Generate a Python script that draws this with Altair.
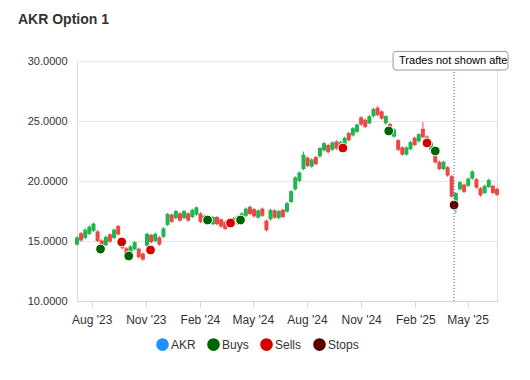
import altair as alt
import pandas as pd

# ---- candle data (weekly) ----
week_start = "2023-07-07"
n_weeks = 103
open_ = [14.7, 15.65, 15.25, 15.6, 15.85, 15.8, 15.05, 14.65, 15.55, 15.25,
         16.25, 15.2, 14.4, 13.95, 14.3, 14.35, 13.95, 14.6, 15.5, 15.0,
         15.3, 15.35, 16.35, 17.2, 16.9, 17.3, 16.9, 17.3, 17.0, 17.2,
         17.3, 16.5, 17.05, 16.4, 17.0, 16.8, 16.6, 16.2, 16.9, 16.45,
         16.7, 17.1, 17.85, 17.65, 16.95, 17.7, 16.7, 16.8, 17.55, 16.9,
         17.6, 17.45, 18.25, 19.3, 20.0, 21.0, 21.95, 21.2, 22.0, 22.05,
         22.55, 23.0, 22.6, 23.3, 22.65, 23.0, 24.0, 23.8, 24.1, 25.3,
         25.1, 24.8, 25.4, 26.1, 25.8, 24.8, 24.75, 23.7, 23.4, 22.8,
         22.2, 22.65, 23.6, 23.3, 24.35, 23.7, 22.6, 22.25, 21.6, 21.0,
         21.15, 20.4, 17.8, 19.3, 19.7, 19.6, 20.2, 20.15, 19.4, 19.0,
         19.5, 19.6, 19.35]
close = [15.3, 15.05, 15.95, 16.2, 16.45, 15.0, 14.35, 15.35, 14.95, 15.95,
         15.55, 14.4, 13.8, 14.55, 14.9, 13.65, 13.45, 15.6, 14.9, 15.6,
         14.7, 16.05, 17.25, 16.6, 17.5, 16.7, 17.5, 16.7, 17.6, 17.8,
         16.6, 17.1, 16.45, 17.0, 16.4, 16.2, 16.0, 16.8, 16.3, 17.05,
         17.3, 17.7, 17.25, 17.05, 17.55, 17.1, 15.9, 17.6, 16.95, 17.5,
         17.0, 18.15, 19.15, 20.3, 20.7, 22.2, 21.25, 21.8, 21.4, 22.75,
         23.15, 22.4, 23.2, 22.7, 23.25, 23.6, 23.4, 24.4, 24.7, 24.7,
         24.5, 25.4, 26.0, 25.5, 25.2, 25.4, 24.05, 24.3, 22.6, 22.2,
         22.8, 23.25, 23.0, 23.9, 23.65, 23.1, 23.2, 21.55, 21.0, 21.6,
         20.45, 18.7, 19.0, 19.9, 19.1, 20.2, 20.8, 19.45, 18.8, 19.6,
         20.1, 19.0, 18.85]
high = [15.4, 15.75, 16.05, 16.3, 16.55, 15.9, 15.15, 15.45, 15.65, 16.05,
        16.35, 15.3, 14.5, 14.65, 15.0, 14.45, 14.05, 15.7, 15.6, 15.7,
        15.4, 16.15, 17.35, 17.3, 17.6, 17.4, 17.6, 17.4, 17.7, 17.9,
        17.4, 17.2, 17.15, 17.1, 17.1, 16.9, 16.7, 16.9, 17.0, 17.15,
        17.4, 17.8, 17.95, 17.75, 17.65, 17.8, 16.8, 17.7, 17.65, 17.6,
        17.7, 18.25, 19.25, 20.4, 20.8, 22.45, 22.05, 21.9, 22.1, 22.85,
        23.25, 23.1, 23.3, 23.4, 23.35, 23.7, 24.1, 24.5, 24.8, 25.4,
        25.2, 25.5, 26.1, 26.25, 25.9, 25.5, 24.85, 24.4, 23.5, 22.9,
        22.9, 23.35, 23.7, 24.0, 24.9, 23.8, 23.3, 22.35, 21.7, 21.7,
        21.25, 20.5, 19.1, 20.0, 19.8, 20.3, 20.9, 20.25, 19.5, 19.7,
        20.2, 19.7, 19.45]
low = [14.6, 14.95, 15.15, 15.5, 15.75, 14.9, 14.25, 14.55, 14.85, 15.15,
       15.45, 14.3, 13.7, 13.85, 14.2, 13.55, 13.35, 14.5, 14.8, 14.9,
       14.6, 15.25, 16.25, 16.5, 16.8, 16.6, 16.8, 16.6, 16.9, 17.1,
       16.5, 16.4, 16.35, 16.3, 16.3, 16.1, 15.9, 16.1, 16.2, 16.35,
       16.6, 17.0, 17.15, 16.95, 16.85, 17.0, 15.8, 16.7, 16.85, 16.8,
       16.9, 17.35, 18.15, 19.2, 19.9, 20.9, 21.15, 21.1, 21.3, 21.95,
       22.45, 22.3, 22.5, 22.6, 22.55, 22.9, 23.3, 23.7, 24.0, 24.6,
       24.4, 24.7, 25.3, 25.4, 25.1, 24.7, 23.95, 23.6, 22.5, 22.1,
       22.1, 22.55, 22.9, 23.2, 23.55, 23.0, 22.5, 21.45, 20.9, 20.9,
       20.35, 18.6, 17.3, 19.2, 19.0, 19.5, 20.1, 19.35, 18.7, 18.9,
       19.4, 18.9, 18.75]

# ---- trades ----
trade_dates = ["2023-08-16", "2023-09-21", "2023-10-03", "2023-11-09",
               "2024-02-14", "2024-03-24", "2024-04-10", "2024-10-01",
               "2024-12-18", "2025-02-21", "2025-03-07", "2025-04-08"]
trade_prices = [14.33, 14.92, 13.75, 14.25, 16.75, 16.5, 16.75, 22.75,
                24.17, 23.17, 22.5, 18.0]
trade_types = ["Buys", "Sells", "Buys", "Sells", "Buys", "Sells", "Buys",
               "Sells", "Buys", "Sells", "Buys", "Stops"]

legend_names = ["AKR", "Buys", "Sells", "Stops"]
legend_colors = ["#1e90ff", "#006400", "#d40000", "#5c0000"]

cutoff_date = "2025-04-08"
cutoff_text = "Trades not shown after"

x_ticks = [alt.DateTime(year=y, month=m, date=1) for y, m in
           [(2023, 8), (2023, 11), (2024, 2), (2024, 5), (2024, 8),
            (2024, 11), (2025, 2), (2025, 5)]]
y_ticks = [10, 15, 20, 25, 30]

candles = pd.DataFrame({
    "date": pd.date_range(week_start, periods=n_weeks, freq="7D"),
    "open": open_, "high": high, "low": low, "close": close,
})
trades = pd.DataFrame({"date": pd.to_datetime(trade_dates),
                       "price": trade_prices, "type": trade_types})
annot = pd.DataFrame({"date": pd.to_datetime([cutoff_date]),
                      "top": [30.8], "bottom": [29.25], "mid": [30.03],
                      "base": [10.0], "text": [cutoff_text]})

FONT = "Liberation Sans"
xscale = alt.Scale(domain=[alt.DateTime(year=2023, month=7, date=7),
                           alt.DateTime(year=2025, month=6, date=20)],
                   padding=0, nice=False)
yscale = alt.Scale(domain=[10, 30], nice=False, zero=False, padding=0)
xaxis = alt.Axis(values=x_ticks, format="%b '%y", grid=False,
                 domainColor="#ccd6eb", tickColor="#ccd6eb", tickSize=6,
                 labelPadding=7, labelFontSize=12, labelColor="#333333",
                 labelFont=FONT, title=None)
yaxis = alt.Axis(values=y_ticks, format=".4f", grid=True,
                 gridColor="#e6e6e6", domain=False, ticks=False,
                 labelPadding=10, labelFontSize=11, labelColor="#333333",
                 labelFont=FONT, title=None)


def X(f):
    return alt.X(f, type="temporal", scale=xscale, axis=xaxis, title=None)


def Y(f):
    return alt.Y(f, type="quantitative", scale=yscale, axis=yaxis, title=None)


updown = alt.condition("datum.close >= datum.open",
                       alt.value("#1fb551"), alt.value("#ee4545"))

base = alt.Chart(candles)
wicks = base.mark_rule(strokeWidth=1).encode(
    x=X("date"), y=Y("low"), y2="high", color=updown)
bodies = base.mark_bar(size=4).encode(
    x=X("date"), y=Y("open"), y2="close", color=updown)

points = alt.Chart(trades).mark_point(
    filled=True, size=95, stroke="white", strokeWidth=1, opacity=1
).encode(
    x=X("date"), y=Y("price"),
    color=alt.Color("type:N",
                    scale=alt.Scale(domain=legend_names, range=legend_colors),
                    legend=alt.Legend(orient="none", legendX=79, legendY=277,
                                      direction="horizontal", title=None,
                                      symbolType="circle", symbolSize=160,
                                      symbolStrokeWidth=0, symbolOpacity=1,
                                      labelFontSize=12, labelColor="#333333",
                                      labelFont=FONT, columnPadding=11,
                                      labelOffset=2, padding=0)),
)

rule = alt.Chart(annot).mark_rule(color="#5252d4", strokeDash=[1, 2],
                                  strokeWidth=1).encode(
    x=X("date"), y=Y("base"), y2="bottom")
box = alt.Chart(annot).mark_rect(
    fill="white", stroke="#999999", strokeWidth=1, cornerRadius=3,
    xOffset=-61, x2Offset=54).encode(x=X("date"), x2="date",
                                     y=Y("top"), y2="bottom")
label = alt.Chart(annot).mark_text(
    align="left", baseline="middle", dx=-55, fontSize=11, font=FONT,
    color="#000000", limit=110, ellipsis="\u200b").encode(
    x=X("date"), y=Y("mid"), text="text:N")

chart = alt.layer(wicks, bodies, points, rule, box, label).properties(
    width=420, height=240,
    autosize=alt.AutoSizeParams(type="none"),
    padding={"left": 69, "top": 53, "right": 25, "bottom": 60},
    title=alt.TitleParams("AKR Option 1", anchor="start", frame="group",
                          dx=-59, fontSize=14, fontWeight="bold",
                          color="#333333", font=FONT, offset=24),
).configure_view(stroke=None).configure(background="white")

chart.save("out.html", embed_options={"renderer": "svg", "actions": False})
